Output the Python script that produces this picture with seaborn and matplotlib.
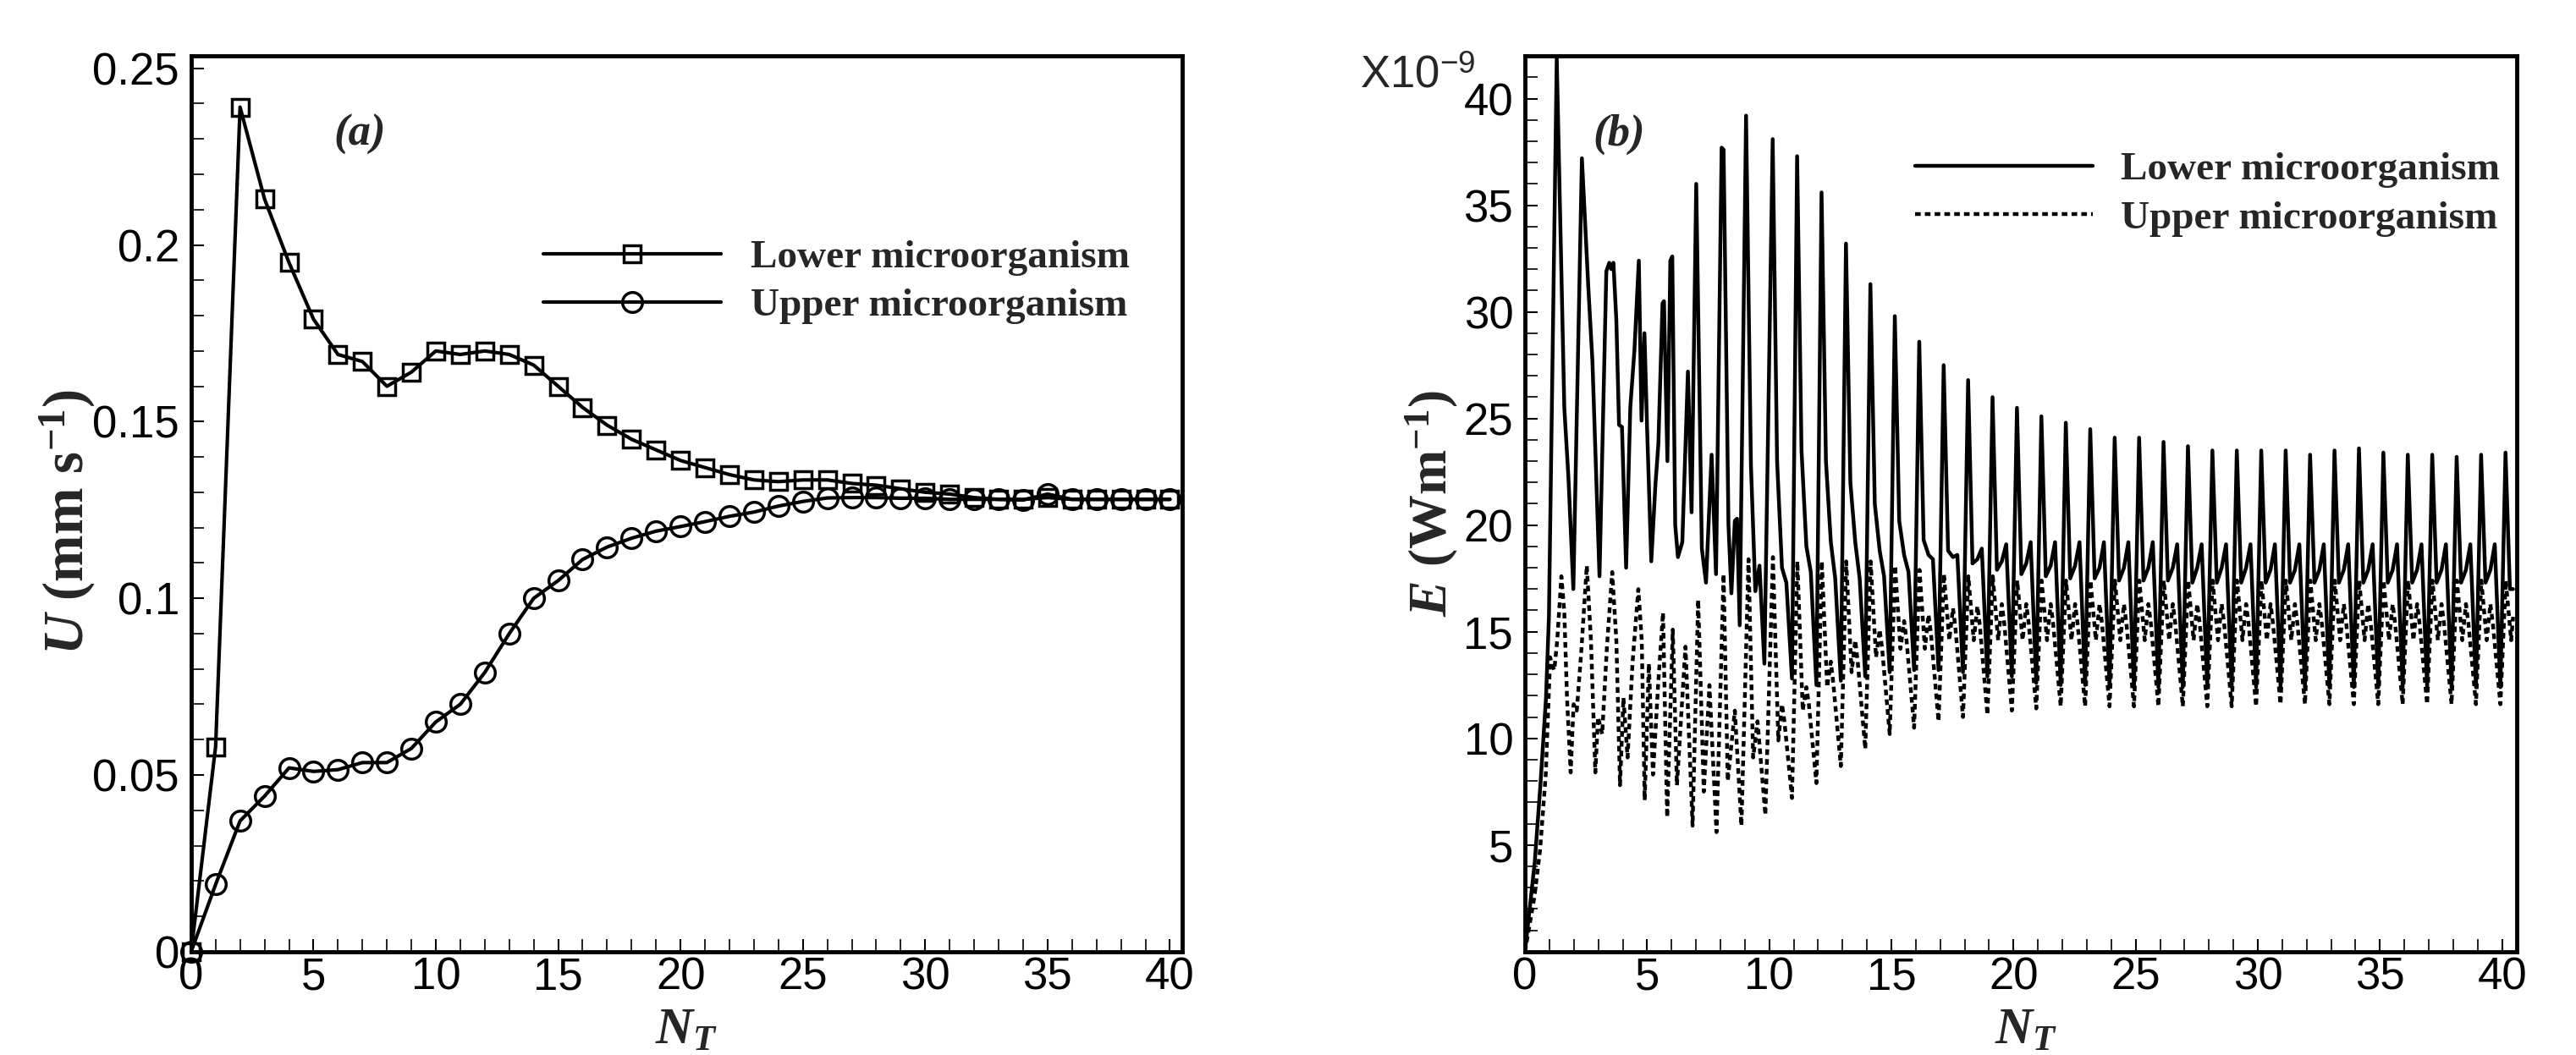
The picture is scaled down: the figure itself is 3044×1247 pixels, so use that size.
"""
Velocidad media U y energía E de los microorganismos frente a N_T
Panel (a): U con marcadores, panel (b): E oscilante
"""

import numpy as np
import matplotlib
matplotlib.use('Agg')
import matplotlib.pyplot as plt
from matplotlib.ticker import MultipleLocator, FuncFormatter
import seaborn as sns

sns.set_style('ticks')
plt.rcParams['font.family'] = ['Liberation Sans', 'DejaVu Sans']
plt.rcParams['mathtext.fontset'] = 'custom'
plt.rcParams['mathtext.rm'] = 'Liberation Serif:bold'
plt.rcParams['mathtext.it'] = 'Liberation Serif:italic:bold'
plt.rcParams['mathtext.bf'] = 'Liberation Serif:bold'

# ---------------- datos panel (a) ----------------
nt_a = list(range(41))
u_lower = [0.0, 0.058, 0.239, 0.213, 0.195, 0.179, 0.169, 0.167, 0.160, 0.164,
           0.170, 0.169, 0.170, 0.169, 0.166, 0.160, 0.154, 0.149, 0.145, 0.142,
           0.139, 0.137, 0.135, 0.1335, 0.133, 0.1335, 0.1335, 0.1325, 0.132, 0.131,
           0.130, 0.1295, 0.1285, 0.128, 0.128, 0.1285, 0.128, 0.128, 0.128, 0.128,
           0.128]
u_upper = [0.0, 0.019, 0.037, 0.044, 0.052, 0.051, 0.0515, 0.0535, 0.0535, 0.0575,
           0.065, 0.070, 0.079, 0.090, 0.100, 0.105, 0.111, 0.1145, 0.117, 0.119,
           0.1203, 0.1217, 0.1232, 0.1244, 0.1261, 0.1274, 0.1284, 0.1285, 0.1285, 0.1283,
           0.1283, 0.128, 0.128, 0.128, 0.1278, 0.1295, 0.128, 0.128, 0.128, 0.128,
           0.128]

# ---------------- datos panel (b) ----------------
# tramo irregular (N_T < 10), leído punto a punto
lower_t0 = [0, 0.4, 0.63, 0.86, 0.98, 1.3, 1.61, 1.78, 1.98, 2.33, 2.59, 2.76, 3.05,
            3.33, 3.45, 3.53, 3.62, 3.74, 3.85, 3.97, 4.14, 4.31, 4.48, 4.66, 4.77,
            4.89, 5.0, 5.17, 5.34, 5.46, 5.63, 5.69, 5.83, 5.95, 6.03, 6.15, 6.26,
            6.44, 6.67, 6.82, 7.01, 7.24, 7.41, 7.64, 7.82, 8.05, 8.13, 8.33, 8.45,
            8.59, 8.68, 8.79, 9.05, 9.25, 9.43, 9.6, 9.8]
lower_e0 = [0, 4.2, 7.8, 11.9, 15.7, 41.9, 25.5, 22.2, 17.0, 37.2, 31.2, 27.7, 17.6,
            31.9, 32.3, 32.0, 32.3, 29.6, 24.7, 24.6, 18.0, 25.5, 28.2, 32.4, 24.9,
            29.0, 24.5, 18.3, 21.9, 23.8, 30.4, 30.5, 23.0, 32.4, 32.6, 20.0, 18.5,
            19.2, 27.2, 20.6, 36.0, 18.9, 17.3, 23.3, 17.7, 37.7, 37.6, 20.0, 16.8,
            20.2, 20.3, 15.3, 39.2, 22.8, 16.9, 18.1, 13.5]
upper_t0 = [0, 0.39, 0.62, 0.85, 0.97, 1.03, 1.09, 1.2, 1.32, 1.49, 1.61, 1.72, 1.87,
            1.99, 2.12, 2.3, 2.53, 2.7, 2.88, 2.99, 3.16, 3.35, 3.57, 3.74, 3.89,
            4.03, 4.2, 4.4, 4.64, 4.78, 4.9, 5.07, 5.24, 5.45, 5.65, 5.82, 6.05,
            6.22, 6.57, 6.86, 7.09, 7.32, 7.55, 7.84, 8.13, 8.3, 8.59, 8.86, 9.15,
            9.34, 9.52, 9.84]
upper_e0 = [0, 2.6, 4.8, 8.3, 11.9, 13.8, 13.5, 13.2, 14.6, 17.6, 15.9, 11.9, 8.4,
            11.6, 11.3, 14.0, 18.1, 14.6, 8.4, 11.0, 10.2, 14.2, 17.8, 14.6, 7.8,
            11.9, 9.1, 13.5, 17.0, 14.6, 7.1, 13.5, 8.3, 12.5, 15.9, 6.3, 15.1,
            7.8, 14.3, 5.9, 16.5, 7.5, 12.5, 5.6, 17.7, 8.0, 11.3, 5.9, 18.4,
            9.1, 10.8, 6.4]

# tramo periódico: un ciclo por unidad de N_T (k = 10..40)
cycles = list(range(10, 41))
lower_phase = [0.14, 0.32, 0.52, 0.70, 0.93]
lower_peak = [38.1, 37.3, 35.6, 33.2, 31.3, 29.8, 28.6, 27.5, 26.8, 26.0,
              25.5, 25.1, 24.8, 24.5, 24.1, 24.1, 23.9, 23.7, 23.5, 23.5,
              23.5, 23.5, 23.3, 23.5, 23.6, 23.4, 23.3, 23.3, 23.2, 23.3, 23.4]
lower_shoulder = [23.0, 23.5, 23.0, 22.0, 21.0, 20.2, 19.3, 18.8, 18.2, 17.9,
                  17.7, 17.6, 17.5, 17.5, 17.4, 17.4, 17.4, 17.3, 17.3, 17.3,
                  17.3, 17.3, 17.3, 17.3, 17.3, 17.3, 17.3, 17.3, 17.3, 17.3, 17.0]
lower_mid = [18.0, 19.0, 19.2, 19.2, 18.8, 18.6, 18.6, 18.5, 18.4, 18.3,
             18.2, 18.1, 18.1, 18.0, 18.0, 18.0, 18.0, 18.0, 18.0, 18.0,
             17.9, 17.9, 17.9, 17.9, 17.9, 17.9, 17.9, 17.9, 17.9, 17.9]
lower_bump = [17.3, 17.8, 17.5, 17.5, 17.6, 17.8, 18.4, 18.6, 18.9, 19.1,
              19.2, 19.2, 19.2, 19.2, 19.2, 19.2, 19.1, 19.1, 19.1, 19.1,
              19.1, 19.1, 19.1, 19.1, 19.1, 19.1, 19.1, 19.1, 19.1, 19.1]
lower_trough = [12.8, 12.5, 12.7, 12.9, 13.1, 13.2, 13.2, 13.1, 12.9, 12.9,
                12.6, 12.5, 12.5, 12.4, 12.4, 12.4, 12.4, 12.4, 12.4, 12.4,
                12.4, 12.4, 12.4, 12.4, 12.4, 12.4, 12.4, 12.4, 12.4, 12.4]

upper_phase = [0.15, 0.37, 0.52, 0.62, 0.93]
upper_peak = [18.5, 18.3, 18.3, 18.3, 18.3, 18.1, 17.9, 17.7, 17.6, 17.6,
              17.4, 17.4, 17.4, 17.4, 17.4, 17.4, 17.4, 17.4, 17.4, 17.4,
              17.4, 17.4, 17.4, 17.4, 17.4, 17.4, 17.4, 17.4, 17.4, 17.4, 17.4]
upper_dip = [9.9, 11.3, 12.4, 13.1, 13.8, 14.2, 14.2, 14.6, 14.6, 14.6,
             14.6, 14.6, 14.6, 14.6, 14.6, 14.6, 14.6, 14.6, 14.6, 14.6,
             14.6, 14.6, 14.6, 14.6, 14.6, 14.6, 14.6, 14.6, 14.6, 14.6, 14.6]
upper_bump = [11.6, 12.4, 13.6, 14.6, 15.1, 15.5, 15.8, 16.1, 16.2, 16.3,
              16.3, 16.3, 16.3, 16.3, 16.3, 16.3, 16.3, 16.3, 16.3, 16.3,
              16.3, 16.3, 16.3, 16.3, 16.3, 16.3, 16.3, 16.3, 16.3, 16.3]
upper_fall = [10.8, 11.6, 12.6, 13.6, 14.2, 14.6, 14.9, 15.2, 15.3, 15.4,
              15.4, 15.4, 15.4, 15.4, 15.4, 15.4, 15.4, 15.4, 15.4, 15.4,
              15.4, 15.4, 15.4, 15.4, 15.4, 15.4, 15.4, 15.4, 15.4, 15.4]
upper_trough = [7.2, 7.9, 8.7, 9.5, 10.2, 10.5, 10.8, 11.0, 11.1, 11.3,
                11.4, 11.5, 11.5, 11.5, 11.5, 11.5, 11.5, 11.5, 11.5, 11.5,
                11.6, 11.6, 11.6, 11.6, 11.6, 11.6, 11.6, 11.6, 11.6, 11.6]
lower_end = (40.45, 17.0)
upper_end = (40.45, 15.7)


def serie_periodica(t0, e0, phases, columns, end):
    """Une el tramo irregular con los ciclos periódicos"""
    t = list(t0)
    e = list(e0)
    for i, k in enumerate(cycles):
        for ph, col in zip(phases, columns):
            if i < len(col):
                t.append(k + ph)
                e.append(col[i])
    t.append(end[0])
    e.append(end[1])
    return np.array(t), np.array(e)


t_low, e_low = serie_periodica(lower_t0, lower_e0, lower_phase,
                               [lower_peak, lower_shoulder, lower_mid, lower_bump, lower_trough],
                               lower_end)
t_up, e_up = serie_periodica(upper_t0, upper_e0, upper_phase,
                             [upper_peak, upper_dip, upper_bump, upper_fall, upper_trough],
                             upper_end)

SERIF = dict(family='Liberation Serif', weight='bold')
TICK_FS = 38
LEG_FS = 34


def estilo_ejes(ax):
    for s in ax.spines.values():
        s.set_visible(True)
        s.set_linewidth(3.5)
        s.set_color('black')
    ax.tick_params(which='both', direction='in', top=False, right=False,
                   labelsize=TICK_FS, colors='black')
    ax.tick_params(axis='y', which='both', pad=10)
    ax.tick_params(axis='x', which='both', pad=4)
    ax.tick_params(which='major', length=11, width=1.5)
    ax.tick_params(which='minor', length=11, width=1.2)
    ax.xaxis.set_major_locator(MultipleLocator(5))
    ax.xaxis.set_minor_locator(MultipleLocator(1))


fig = plt.figure(figsize=(30.44, 12.47), dpi=100)
ax1 = fig.add_axes([0.0742, 0.098, 0.3847, 0.849])
ax2 = fig.add_axes([0.592, 0.098, 0.385, 0.849])

# ---- panel (a)
sns.lineplot(x=nt_a, y=u_lower, ax=ax1, color='black', linewidth=3, marker='s',
             markersize=15, markerfacecolor='none', markeredgecolor='black',
             markeredgewidth=2.5, label='Lower microorganism', clip_on=False)
sns.lineplot(x=nt_a, y=u_upper, ax=ax1, color='black', linewidth=3, marker='o',
             markersize=17, markerfacecolor='none', markeredgecolor='black',
             markeredgewidth=2.5, label='Upper microorganism', clip_on=False)
ax1.set_xlim(0, 40.5)
ax1.set_ylim(0, 0.2535)
estilo_ejes(ax1)
ax1.yaxis.set_major_locator(MultipleLocator(0.05))
ax1.yaxis.set_minor_locator(MultipleLocator(0.01))
ax1.yaxis.set_major_formatter(FuncFormatter(lambda v, p: f'{v:g}'))
ax1.set_xlabel(r'$N_T$', fontsize=44, **SERIF)
ax1.set_ylabel(r'$\mathit{U}$ (mm s$^{\mathregular{-1}}$)', fontsize=48, **SERIF)
ax1.xaxis.set_label_coords(0.5, -0.062)
ax1.yaxis.set_label_coords(-0.095, 0.48)
ax1.text(0.17, 0.912, '(a)', transform=ax1.transAxes, ha='center', va='center',
         fontsize=38, family='Liberation Serif', weight='bold', style='italic')
ax1.legend(loc='upper left', bbox_to_anchor=(0.355, 0.795), frameon=False,
           prop=dict(size=LEG_FS, **SERIF), handlelength=4.45, handletextpad=0.75,
           labelspacing=0.3, borderpad=0, borderaxespad=0, numpoints=1)

# ---- panel (b)
sns.lineplot(x=t_low, y=e_low, ax=ax2, color='black', linewidth=3.2, sort=False,
             estimator=None, label='Lower microorganism')
sns.lineplot(x=t_up, y=e_up, ax=ax2, color='black', linewidth=3.2, sort=False,
             estimator=None, label='Upper microorganism', linestyle=(0, (1.5, 1.1)))
ax2.set_xlim(0, 40.6)
ax2.set_ylim(0, 42)
estilo_ejes(ax2)
ax2.set_yticks(range(5, 41, 5))
ax2.yaxis.set_minor_locator(MultipleLocator(1))
ax2.set_xlabel(r'$N_T$', fontsize=44, **SERIF)
ax2.set_ylabel(r'$\mathit{E}$ (Wm$^{\mathregular{-1}}$)', fontsize=46, **SERIF)
ax2.xaxis.set_label_coords(0.505, -0.062)
ax2.yaxis.set_label_coords(-0.066, 0.5)
ax2.text(0.095, 0.912, '(b)', transform=ax2.transAxes, ha='center', va='center',
         fontsize=38, family='Liberation Serif', weight='bold', style='italic')
ax2.text(-0.05, 0.965, r'X10$^{\mathregular{-9}}$', transform=ax2.transAxes,
         ha='right', va='baseline', fontsize=TICK_FS)
ax2.legend(loc='upper left', bbox_to_anchor=(0.393, 0.893), frameon=False,
           prop=dict(size=LEG_FS, **SERIF), handlelength=4.45, handletextpad=0.7,
           labelspacing=0.3, borderpad=0, borderaxespad=0)

fig.savefig('out.png', dpi=100)
